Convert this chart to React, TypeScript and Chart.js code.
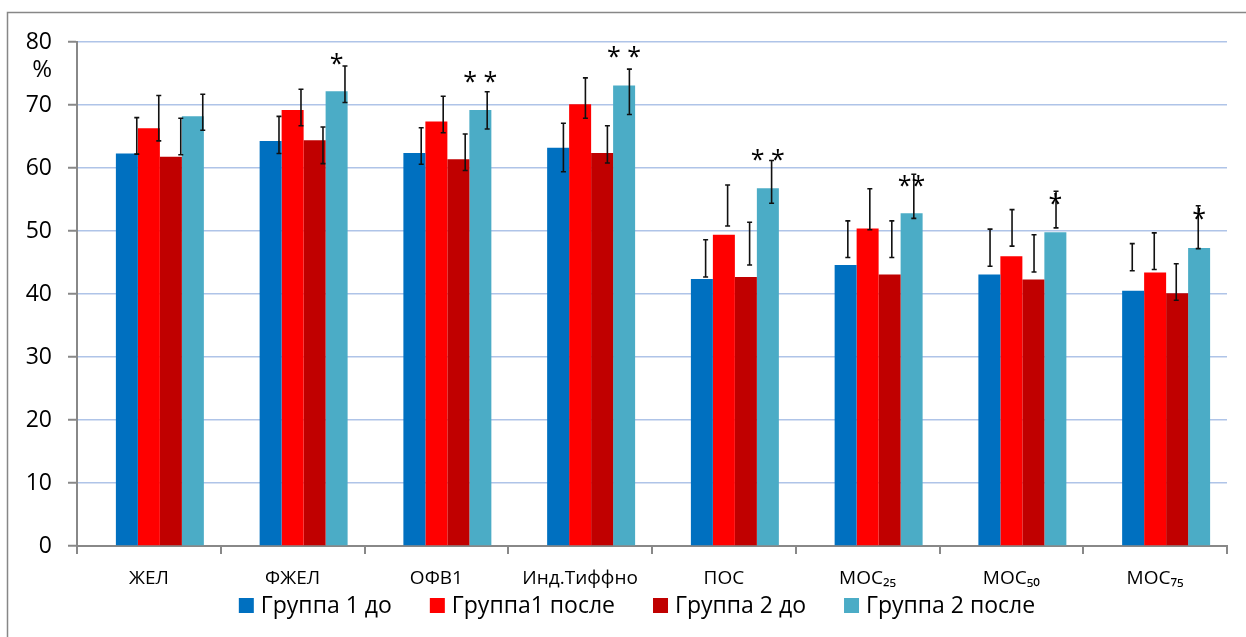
import React, { useEffect, useRef } from "react";
import { Chart, registerables } from "chart.js";

Chart.register(...registerables);

const categories = ["ЖЕЛ", "ФЖЕЛ", "ОФВ1", "Инд.Тиффно", "ПОС", "МОС₂₅", "МОС₅₀", "МОС₇₅"];
const seriesNames = ["Группа 1 до", "Группа1 после", "Группа 2 до", "Группа 2 после"];
const seriesColors = ["#0070C0", "#FF0000", "#C00000", "#4BACC6"];

const group1Before = [62.3, 64.3, 62.4, 63.2, 42.4, 44.6, 43.1, 40.5];
const group1After = [66.3, 69.2, 67.4, 70.1, 49.4, 50.4, 46.0, 43.4];
const group2Before = [61.8, 64.4, 61.4, 62.4, 42.7, 43.1, 42.3, 40.1];
const group2After = [68.2, 72.2, 69.2, 73.1, 56.8, 52.8, 49.8, 47.3];

const group1BeforeLow = [62.2, 62.3, 60.6, 59.4, 42.7, 45.8, 44.4, 43.7];
const group1BeforeHigh = [68.0, 68.2, 66.4, 67.1, 48.6, 51.6, 50.3, 48.0];
const group1AfterLow = [64.3, 66.7, 65.6, 67.9, 50.8, 50.2, 47.6, 43.9];
const group1AfterHigh = [71.5, 72.5, 71.4, 74.3, 57.3, 56.7, 53.4, 49.7];
const group2BeforeLow = [62.1, 60.7, 59.6, 60.8, 44.6, 45.8, 43.5, 39.0];
const group2BeforeHigh = [67.9, 66.5, 65.4, 66.7, 51.4, 51.6, 49.4, 44.8];
const group2AfterLow = [66.0, 70.4, 66.2, 68.5, 54.4, 52.0, 50.5, 47.2];
const group2AfterHigh = [71.7, 76.2, 72.1, 75.7, 61.2, 59.0, 56.3, 54.0];

const starLabels = ["", "*", "* *", "* *", "* *", "**", "*", "*"];
const starValues = [null, 77.5, 74.6, 78.6, 62.2, 58.1, 55.2, 52.9];

const yTicks = [0, 10, 20, 30, 40, 50, 60, 70, 80];
const yUnit = "%";

const seriesValues = [group1Before, group1After, group2Before, group2After];
const seriesLow = [group1BeforeLow, group1AfterLow, group2BeforeLow, group2AfterLow];
const seriesHigh = [group1BeforeHigh, group1AfterHigh, group2BeforeHigh, group2AfterHigh];

const FONT = "'Open Sans', 'Noto Sans', 'DejaVu Sans', sans-serif";

const framePlugin = {
  id: "frame",
  beforeDraw(chart: any) {
    const ctx = chart.ctx;
    ctx.save();
    ctx.fillStyle = "#ffffff";
    ctx.fillRect(0, 0, chart.width, chart.height);
    ctx.strokeStyle = "#878787";
    ctx.lineWidth = 1.5;
    ctx.beginPath();
    ctx.moveTo(7.5, chart.height);
    ctx.lineTo(7.5, 12.5);
    ctx.lineTo(chart.width, 12.5);
    ctx.stroke();
    ctx.restore();
  },
};

const errorBarPlugin = {
  id: "errorBars",
  afterDatasetsDraw(chart: any) {
    const ctx = chart.ctx;
    const y = chart.scales.y;
    ctx.save();
    ctx.strokeStyle = "#111111";
    ctx.lineWidth = 1.6;
    for (let s = 0; s < seriesValues.length; s++) {
      const meta = chart.getDatasetMeta(s + 1);
      meta.data.forEach((el: any, j: number) => {
        const shift = (0.45 - 0.07 * j) * el.width;
        const x = el.x + shift;
        const yl = y.getPixelForValue(seriesLow[s][j]);
        const yh = y.getPixelForValue(seriesHigh[s][j]);
        ctx.beginPath();
        ctx.moveTo(x, yl);
        ctx.lineTo(x, yh);
        ctx.moveTo(x - 2.5, yl);
        ctx.lineTo(x + 2.5, yl);
        ctx.moveTo(x - 2.5, yh);
        ctx.lineTo(x + 2.5, yh);
        ctx.stroke();
      });
    }
    const lastMeta = chart.getDatasetMeta(seriesValues.length);
    ctx.fillStyle = "#000000";
    ctx.font = `25px ${FONT}`;
    ctx.textAlign = "center";
    ctx.textBaseline = "alphabetic";
    lastMeta.data.forEach((el: any, j: number) => {
      const v = starValues[j];
      if (v == null || !starLabels[j]) return;
      ctx.fillText(starLabels[j], el.x, y.getPixelForValue(v) + 14);
    });
    ctx.font = `24px ${FONT}`;
    ctx.textAlign = "right";
    ctx.fillText(yUnit, 52, y.getPixelForValue(80) + 35);
    ctx.restore();
  },
};

const legendPlugin = {
  id: "customLegend",
  afterDraw(chart: any) {
    const ctx = chart.ctx;
    ctx.save();
    ctx.font = `23px ${FONT}`;
    ctx.textBaseline = "alphabetic";
    ctx.textAlign = "left";
    const box = 15;
    const gap = 7;
    const spacing = 38;
    const widths = seriesNames.map((n) => ctx.measureText(n).width);
    const total = widths.reduce((a, w) => a + box + gap + w, 0) + spacing * (seriesNames.length - 1);
    let x = 637 - total / 2;
    const boxTop = 598;
    seriesNames.forEach((n, i) => {
      ctx.fillStyle = seriesColors[i];
      ctx.fillRect(x, boxTop, box, box);
      ctx.fillStyle = "#000000";
      ctx.fillText(n, x + box + gap, boxTop + box);
      x += box + gap + widths[i] + spacing;
    });
    ctx.restore();
  },
};

export default function App() {
  const ref = useRef<HTMLCanvasElement>(null);
  useEffect(() => {
    if (!ref.current) return;
    Chart.defaults.font.family = FONT;
    const datasets: any[] = [
      {
        label: "",
        data: categories.map(() => null),
        backgroundColor: "rgba(0,0,0,0)",
      },
      ...seriesNames.map((name, i) => ({
        label: name,
        data: seriesValues[i],
        backgroundColor: seriesColors[i],
        borderWidth: 0,
      })),
    ];
    const chart = new Chart(ref.current, {
      type: "bar",
      data: { labels: categories, datasets },
      options: {
        responsive: false,
        animation: false,
        events: [],
        layout: { padding: { left: 0, right: 19, top: 42, bottom: 0 } },
        datasets: {
          bar: { categoryPercentage: 0.765, barPercentage: 1 },
        },
        plugins: {
          legend: { display: false },
          tooltip: { enabled: false },
        },
        scales: {
          x: {
            grid: {
              display: true,
              drawOnChartArea: false,
              drawTicks: true,
              tickLength: 8,
              color: "#888888",
              lineWidth: 2,
              offset: true,
            },
            border: { display: true, color: "#888888", width: 2 },
            ticks: {
              font: { size: 19, family: FONT },
              color: "#000000",
              padding: 13,
              maxRotation: 0,
              autoSkip: false,
            },
            afterFit(scale: any) {
              scale.height = 91;
            },
          },
          y: {
            min: 0,
            max: 80,
            afterBuildTicks(scale: any) {
              scale.ticks = yTicks.map((v) => ({ value: v }));
            },
            grid: {
              color: "#afc4e8",
              lineWidth: 1.5,
              tickColor: "#888888",
              tickLength: 9,
              tickWidth: 2,
            },
            border: { display: true, color: "#888888", width: 2 },
            ticks: {
              font: { size: 23, family: FONT },
              color: "#000000",
              padding: 16,
            },
            afterFit(scale: any) {
              scale.width = 77;
            },
          },
        },
      },
      plugins: [framePlugin, errorBarPlugin, legendPlugin],
    });
    return () => chart.destroy();
  }, []);
  return (
    <div style={{ position: "fixed", left: 0, top: 0, width: 1246, height: 637, background: "#fff" }}>
      <canvas ref={ref} width={1246} height={637} style={{ display: "block" }} />
    </div>
  );
}
